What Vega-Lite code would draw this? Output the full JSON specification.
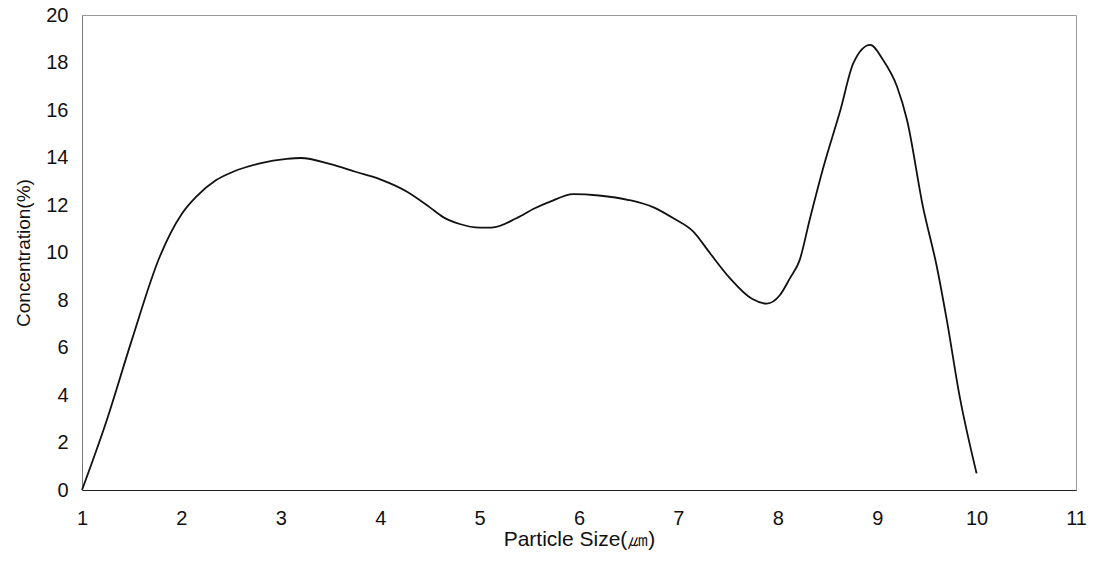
{
  "$schema": "https://vega.github.io/schema/vega-lite/v6.json",
  "autosize": "none",
  "width": 994,
  "height": 475,
  "padding": {"left": 82, "top": 15, "right": 25, "bottom": 73},
  "background": "white",
  "config": {
    "font": "Liberation Sans",
    "view": {"stroke": "#999999", "strokeWidth": 1},
    "axis": {"grid": false, "ticks": false, "labelFont": "Liberation Sans", "titleFont": "Liberation Sans", "labelFontSize": 20, "titleFontSize": 19, "titleFontWeight": "normal", "labelColor": "#111", "titleColor": "#111"}
  },
  "data": {"values": [
    {"size": 1.0, "conc": 0},
    {"size": 1.25, "conc": 2.95},
    {"size": 1.5, "conc": 6.3},
    {"size": 1.78, "conc": 9.8},
    {"size": 2.0, "conc": 11.6},
    {"size": 2.15, "conc": 12.35},
    {"size": 2.35, "conc": 13.05},
    {"size": 2.52, "conc": 13.4},
    {"size": 2.79, "conc": 13.75},
    {"size": 3.06, "conc": 13.94},
    {"size": 3.2, "conc": 13.98},
    {"size": 3.5, "conc": 13.72},
    {"size": 3.75, "conc": 13.4},
    {"size": 4.0, "conc": 13.08},
    {"size": 4.27, "conc": 12.56},
    {"size": 4.5, "conc": 11.9},
    {"size": 4.63, "conc": 11.5},
    {"size": 4.8, "conc": 11.2},
    {"size": 5.0, "conc": 11.05},
    {"size": 5.12, "conc": 11.05},
    {"size": 5.37, "conc": 11.44},
    {"size": 5.55, "conc": 11.85},
    {"size": 5.71, "conc": 12.14},
    {"size": 5.94, "conc": 12.46},
    {"size": 6.2, "conc": 12.4},
    {"size": 6.5, "conc": 12.21},
    {"size": 6.75, "conc": 11.9},
    {"size": 6.95, "conc": 11.44},
    {"size": 7.15, "conc": 10.88},
    {"size": 7.32, "conc": 9.96},
    {"size": 7.52, "conc": 8.91},
    {"size": 7.74, "conc": 8.05},
    {"size": 7.89, "conc": 7.85},
    {"size": 8.02, "conc": 8.2},
    {"size": 8.12, "conc": 8.9},
    {"size": 8.22, "conc": 9.68},
    {"size": 8.32, "conc": 11.37},
    {"size": 8.46, "conc": 13.61},
    {"size": 8.63, "conc": 16.0},
    {"size": 8.76, "conc": 17.97},
    {"size": 8.93, "conc": 18.74},
    {"size": 9.06, "conc": 18.1},
    {"size": 9.2, "conc": 16.98},
    {"size": 9.3, "conc": 15.58},
    {"size": 9.46, "conc": 11.93},
    {"size": 9.6, "conc": 9.4},
    {"size": 9.7, "conc": 7.16},
    {"size": 9.83, "conc": 3.93},
    {"size": 10.0, "conc": 0.7}
  ]},
  "mark": {"type": "line", "color": "#111111", "strokeWidth": 1.8, "interpolate": "monotone"},
  "encoding": {
    "x": {"field": "size", "type": "quantitative", "scale": {"domain": [1, 11], "nice": false, "zero": false},
      "axis": {"values": [1,2,3,4,5,6,7,8,9,10,11], "title": "Particle Size(㎛)", "titleFontSize": 21, "labelPadding": 18, "titlePadding": 0, "domainColor": "#222", "labelFlush": false}},
    "y": {"field": "conc", "type": "quantitative", "scale": {"domain": [0, 20], "nice": false},
      "axis": {"values": [0,2,4,6,8,10,12,14,16,18,20], "title": "Concentration(%)", "labelPadding": 14, "titlePadding": 12, "domainColor": "#777", "labelFlush": false}}
  }
}
